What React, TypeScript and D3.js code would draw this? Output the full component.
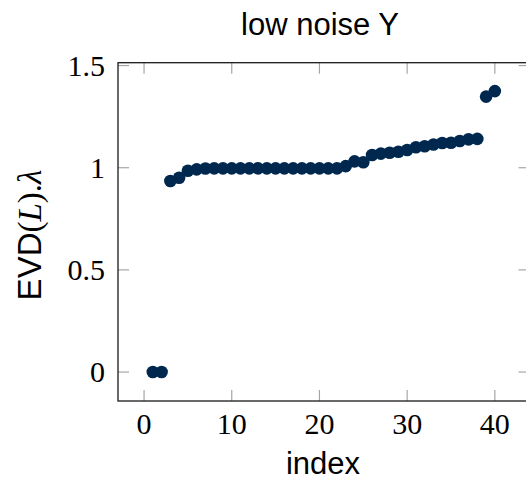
import React, { useEffect, useRef } from 'react';
import * as d3 from 'd3';

const indices = d3.range(1, 41);
const eigenvalues = [
  0, 0, 0.935, 0.951, 0.985, 0.992, 0.996, 0.997, 0.997, 0.997,
  0.997, 0.997, 0.997, 0.997, 0.997, 0.997, 0.997, 0.997, 0.997, 0.997,
  0.997, 0.997, 1.008, 1.031, 1.027, 1.062, 1.069, 1.073, 1.078, 1.087,
  1.1, 1.105, 1.114, 1.121, 1.122, 1.131, 1.139, 1.141, 1.348, 1.375,
];
const xTicks = [0, 10, 20, 30, 40];
const yTicks = [0, 0.5, 1, 1.5];
const yTickLabels = ['0', '0.5', '1', '1.5'];

const W = 526, H = 481;
const left = 118, right = 529.5, top = 62.7, bottom = 401;
const serif = '"Liberation Serif", "DejaVu Serif", serif';
const sans = '"Liberation Sans", Arial, sans-serif';

export default function App() {
  const ref = useRef<SVGSVGElement>(null);

  useEffect(() => {
    const svg = d3.select(ref.current);
    svg.selectAll('*').remove();

    const x = d3.scaleLinear().domain([-2.97, 43.95]).range([left, right]);
    const y = d3.scaleLinear().domain([-0.1416, 1.514]).range([bottom, top]);

    // ticks, gray, inward on all sides
    const tk = svg.append('g').attr('stroke', '#a6a6a6').attr('stroke-width', 1.2);
    xTicks.forEach((t) => {
      tk.append('line').attr('x1', x(t)).attr('x2', x(t)).attr('y1', bottom).attr('y2', bottom - 11);
      tk.append('line').attr('x1', x(t)).attr('x2', x(t)).attr('y1', top).attr('y2', top + 11);
    });
    yTicks.forEach((t) => {
      tk.append('line').attr('y1', y(t)).attr('y2', y(t)).attr('x1', left).attr('x2', left + 11);
      tk.append('line').attr('y1', y(t)).attr('y2', y(t)).attr('x1', right).attr('x2', right - 11);
    });

    // axis box
    svg.append('rect')
      .attr('x', left).attr('y', top)
      .attr('width', right - left).attr('height', bottom - top)
      .attr('fill', 'none').attr('stroke', '#1a1a1a').attr('stroke-width', 1.3);

    // points
    svg.append('g').selectAll('circle')
      .data(indices)
      .enter().append('circle')
      .attr('cx', (d) => x(d))
      .attr('cy', (d, i) => y(eigenvalues[i]))
      .attr('r', 6.3)
      .attr('fill', '#00284f');

    // tick labels
    svg.append('g').selectAll('text')
      .data(xTicks)
      .enter().append('text')
      .attr('x', (d) => x(d)).attr('y', 434)
      .attr('text-anchor', 'middle')
      .style('font-family', serif).style('font-size', '30px')
      .text((d) => String(d));

    svg.append('g').selectAll('text')
      .data(yTicks)
      .enter().append('text')
      .attr('x', 105).attr('y', (d) => y(d) + 10)
      .attr('text-anchor', 'end')
      .style('font-family', serif).style('font-size', '30px')
      .text((d, i) => yTickLabels[i]);

    // title
    svg.append('text')
      .attr('x', 320).attr('y', 35)
      .attr('text-anchor', 'middle')
      .style('font-family', sans).style('font-size', '31px')
      .text('low noise Y');

    // x label
    svg.append('text')
      .attr('x', 323).attr('y', 474)
      .attr('text-anchor', 'middle')
      .style('font-family', sans).style('font-size', '31px')
      .text('index');

    // y label
    const yl = svg.append('text')
      .attr('transform', 'translate(41,235) rotate(-90)')
      .attr('text-anchor', 'middle')
      .style('font-size', '33px');
    yl.append('tspan').style('font-family', sans).text('EVD');
    yl.append('tspan').style('font-family', serif).text('(');
    yl.append('tspan').style('font-family', serif).style('font-style', 'italic').text('L');
    yl.append('tspan').style('font-family', serif).text(').');
    yl.append('tspan').style('font-family', serif).style('font-style', 'italic').text('λ');
  }, []);

  return (
    <svg ref={ref} width={W} height={H} style={{ position: 'absolute', left: 0, top: 0, background: '#fff' }} />
  );
}
